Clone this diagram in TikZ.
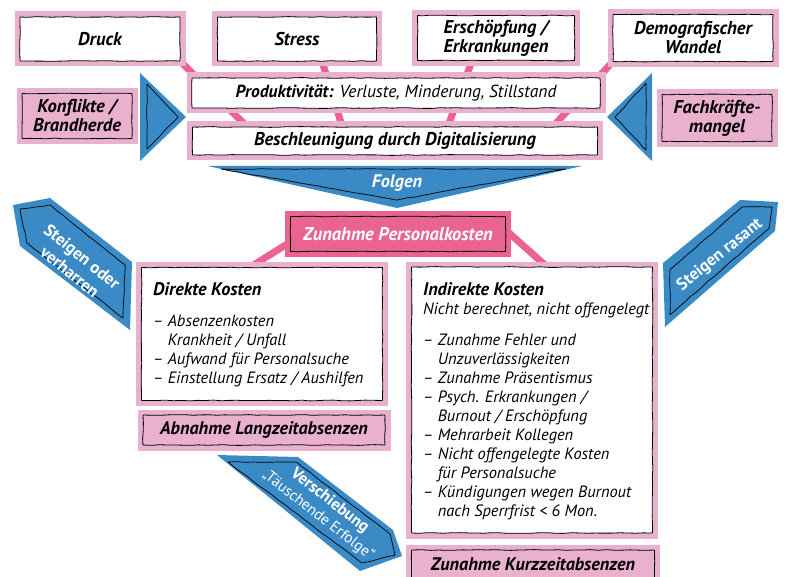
\documentclass[tikz,border=0pt]{standalone}
\usepackage{fontspec}
\setmainfont{PT Sans}
\usetikzlibrary{decorations.pathmorphing,backgrounds}

\definecolor{rosa}{RGB}{233,177,205}
\definecolor{himbeer}{RGB}{234,99,146}
\definecolor{blau}{RGB}{58,138,198}

\tikzset{
  krakel/.style={decorate, decoration={random steps, segment length=8pt, amplitude=.4pt}, rounded corners=.5pt},
  kasten/.style={fill=white, inner sep=0pt, align=center,
    font=\bfseries\itshape\fontsize{18.5}{19}\selectfont,
    preaction={draw=#1, line width=11pt},
    postaction={draw=black, line width=.8pt, krakel}},
  kasten/.default=rosa,
  kastenrosa/.style={kasten, fill=rosa},
  kastenpink/.style={kasten=himbeer, fill=himbeer, text=white},
  zeile/.style={font=\bfseries\itshape\fontsize{18.2}{19}\selectfont},
  verbinder/.style={himbeer, line width=7pt},
  pfeilrand/.style={draw=black, line width=.7pt, krakel},
  weiss/.style={text=white, align=center, font=\bfseries\fontsize{17}{19.5}\selectfont},
  liste/.style={align=left, inner sep=0pt, anchor=north west, font=\itshape\fontsize{16.4}{19}\selectfont}
}
\newcommand{\titel}[1]{{\fontsize{18.2}{19}\selectfont\bfseries #1}}

\begin{document}
\begin{tikzpicture}[x=1pt, y=-1pt]
  \pgfmathsetseed{11}
  \path[use as bounding box] (0,0) rectangle (786,577);
  \clip (0,0) rectangle (786,577);

  % obere Reihe
  \node[kasten, minimum width=160pt, minimum height=44pt] (druck) at (100,39) {Druck};
  \node[kasten, minimum width=159pt, minimum height=44pt] (stress) at (297,39) {Stress};
  \node[kasten, minimum width=157pt, minimum height=45pt] (erschoepf) at (496,38) {Erschöpfung /\\Erkrankungen};
  \node[kasten, minimum width=160pt, minimum height=47pt] (demo) at (693,38) {Demografischer\\Wandel};

  % mittlere Reihe
  \node[kasten, font=\bfseries\itshape\fontsize{17.5}{19}\selectfont, minimum width=408pt, minimum height=30pt] (prod) at (396,93)
    {Produktivität: {\mdseries Verluste, Minderung, Stillstand}};
  \node[kasten, minimum width=405pt, minimum height=28pt] (besch) at (395,141)
    {Beschleunigung durch Digitalisierung};
  \node[kastenrosa, minimum width=110pt, minimum height=45pt] (konflikt) at (77,116) {Konflikte /\\Brandherde};
  \node[kastenrosa, minimum width=110pt, minimum height=47pt] (fach) at (717,118) {Fachkräfte-\\mangel};

  % Dreiecke links und rechts
  \fill[blau] (140,73) -- (186,117) -- (140,161) -- cycle;
  \draw[pfeilrand] (147,84) -- (178,117) -- (147,149) -- cycle;
  \fill[blau] (652,73) -- (607,117) -- (652,161) -- cycle;
  \draw[pfeilrand] (646,83) -- (615,117) -- (646,150) -- cycle;

  % Folgen
  \fill[blau] (208,166) -- (582,166) -- (397,208) -- cycle;
  \draw[pfeilrand] (221,169) -- (566,169) -- (397,200) -- cycle;
  \node[weiss, font=\bfseries\itshape\fontsize{18.2}{19}\selectfont] (folgen) at (397,183) {Folgen};

  % Kosten
  \node[kastenpink, minimum width=215pt, minimum height=35pt] (zunahme) at (398,234) {Zunahme Personalkosten};
  \node[kasten, minimum width=241pt, minimum height=133pt] (direkt) at (262,334) {};
  \node[kastenrosa, zeile, minimum width=242pt, minimum height=30pt] (abnahme) at (264,430) {Abnahme Langzeitabsenzen};
  \node[kasten, minimum width=241pt, minimum height=266pt] (indirekt) at (532,400) {};
  \node[kastenrosa, zeile, minimum width=243pt, minimum height=28pt] (kurz) at (533,564) {Zunahme Kurzzeitabsenzen};

  \node[liste] (direkttext) at (153,282) {\titel{Direkte Kosten}\\[12pt]
    – Absenzenkosten\\
    \hphantom{– }Krankheit / Unfall\\
    – Aufwand für Personalsuche\\
    – Einstellung Ersatz / Aushilfen};
  \node[liste] (indirekttext) at (423,282) {\titel{Indirekte Kosten}\\
    Nicht berechnet, nicht offengelegt\\[12pt]
    – Zunahme Fehler und\\
    \hphantom{– }Unzuverlässigkeiten\\
    – Zunahme Präsentismus\\
    – Psych. Erkrankungen /\\
    \hphantom{– }Burnout / Erschöpfung\\
    – Mehrarbeit Kollegen\\
    – Nicht offengelegte Kosten\\
    \hphantom{– }für Personalsuche\\
    – Kündigungen wegen Burnout\\
    \hphantom{– }nach Sperrfrist < 6 Mon.};

  % blaue Bänder
  \fill[blau] (13,205) -- (50,198) -- (132,262) -- (130,330) -- (20,246) -- cycle;
  \draw[pfeilrand] (20,209) -- (50,205) -- (125,265) -- (123,318) -- (27,243) -- cycle;
  \node[weiss, rotate=-39] (steigenl) at (76,264) {Steigen oder\\verharren};

  \fill[blau] (740,200) -- (778,202) -- (775,231) -- (665,327) -- (663,263) -- cycle;
  \draw[pfeilrand] (742,207) -- (772,207) -- (769,228) -- (670,315) -- (670,270) -- cycle;
  \node[weiss, rotate=39] (steigenr) at (720,255) {Steigen rasant};

  \fill[blau] (217,455) -- (298,457) -- (393,530) -- (402,556) -- (360,571) -- cycle;
  \draw[pfeilrand] (228,462) -- (296,462) -- (390,534) -- (395,555) -- (362,563) -- cycle;
  \node[weiss, rotate=-38, font=\bfseries\fontsize{16.5}{18.5}\selectfont] (verschieb) at (324,508)
    {Verschiebung\\{\mdseries\fontsize{15.3}{18.5}\selectfont „Täuschende Erfolge“}};

  % Verbinder hinter den Kästen
  \begin{scope}[on background layer]
    \draw[verbinder] (druck.south east) -- ([xshift=55pt]besch.north west);
    \draw[verbinder] ([xshift=25pt]stress.south) -- ([xshift=150pt]besch.north west);
    \draw[verbinder] ([xshift=-24pt]erschoepf.south) -- ([xshift=-150pt]besch.north east);
    \draw[verbinder] (demo.south west) -- ([xshift=-45pt]besch.north east);
    \draw[verbinder] ([shift={(0,8)}]zunahme.west) -- ([xshift=-12pt]direkt.north);
    \draw[verbinder] ([shift={(0,-4)}]zunahme.east) -- ([xshift=15pt]indirekt.north);
  \end{scope}
\end{tikzpicture}
\end{document}
